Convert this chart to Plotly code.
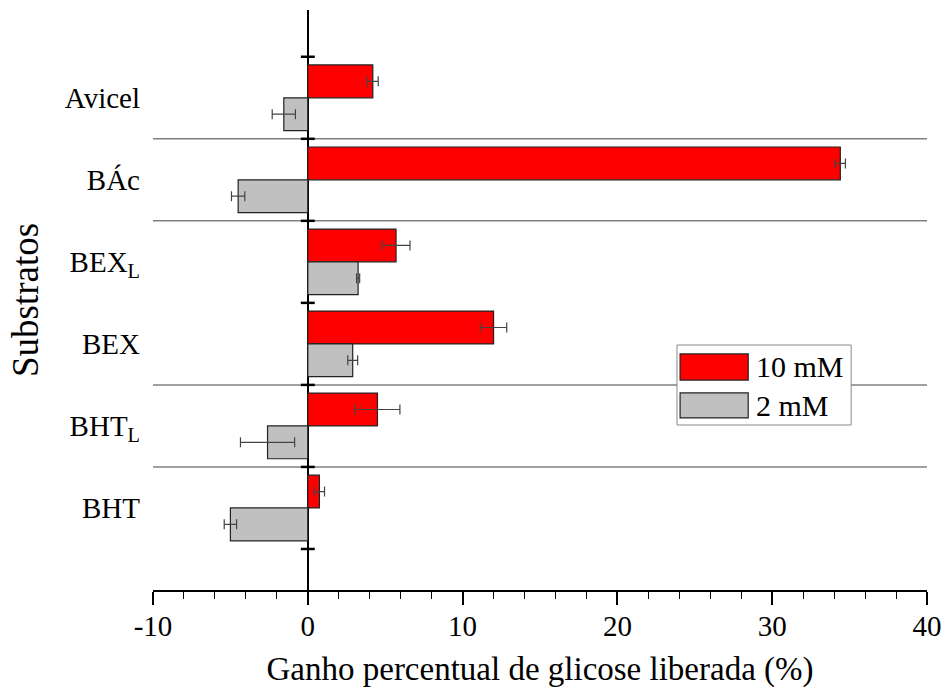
import plotly.graph_objects as go

categories = ["Avicel", "BÁc", "BEX<sub>L</sub>", "BEX", "BHT<sub>L</sub>", "BHT"]
val_10mM = [4.2, 34.4, 5.7, 12.0, 4.5, 0.75]
err_10mM = [0.35, 0.33, 0.9, 0.85, 1.45, 0.33]
val_2mM = [-1.55, -4.5, 3.25, 2.9, -2.6, -5.0]
err_2mM = [0.75, 0.43, 0.1, 0.32, 1.75, 0.4]
series_names = ["10 mM", "2 mM"]
x_ticks = [-10, 0, 10, 20, 30, 40]
x_ticklabels = ["-10", "0", "10", "20", "30", "40"]
separators = [0.5, 1.5, 3.5, 4.5]
tick_bounds = [-0.5, 0.5, 1.5, 2.5, 3.5, 4.5, 5.5]

FONT = "Liberation Serif"
RED = "#FF0000"
GRAY = "#C0C0C0"

fig = go.Figure()
fig.add_trace(go.Bar(
    y=categories, x=val_10mM, orientation="h", name=series_names[0],
    marker=dict(color=RED, line=dict(color="#222222", width=1.2)),
    error_x=dict(type="data", array=err_10mM, color="#444444", thickness=1.2, width=5),
    showlegend=False,
))
fig.add_trace(go.Bar(
    y=categories, x=val_2mM, orientation="h", name=series_names[1],
    marker=dict(color=GRAY, line=dict(color="#222222", width=1.2)),
    error_x=dict(type="data", array=err_2mM, color="#444444", thickness=1.2, width=5),
    showlegend=False,
))

shapes = []
for s in separators:
    shapes.append(dict(type="line", xref="paper", yref="y", x0=0, x1=1, y0=s, y1=s,
                       line=dict(color="#808080", width=1.5), layer="below"))
for t in tick_bounds:
    shapes.append(dict(type="line", xref="x", yref="y", x0=-0.45, x1=0.45, y0=t, y1=t,
                       line=dict(color="black", width=2.5)))

# manual legend
lx0, lx1, ly0, ly1 = 0.677, 0.902, 0.2845, 0.4224
shapes.append(dict(type="rect", xref="paper", yref="paper", x0=lx0, x1=lx1, y0=ly0, y1=ly1,
                   fillcolor="white", line=dict(color="#888888", width=1)))
sw = [(0.362, 0.407, RED), (0.2966, 0.3397, GRAY)]
annotations = []
for (y0, y1, c), name in zip(sw, series_names):
    shapes.append(dict(type="rect", xref="paper", yref="paper", x0=0.681, x1=0.769, y0=y0, y1=y1,
                       fillcolor=c, line=dict(color="#222222", width=1.2)))
    annotations.append(dict(xref="paper", yref="paper", x=0.777, y=(y0 + y1) / 2, text=name,
                            showarrow=False, xanchor="left", yanchor="middle",
                            font=dict(family=FONT, size=30, color="black")))

fig.update_layout(
    width=944, height=693,
    margin=dict(l=153, r=17, t=10, b=103),
    paper_bgcolor="white", plot_bgcolor="white",
    barmode="group", bargap=0.2, bargroupgap=0,
    font=dict(family=FONT, size=29, color="black"),
    shapes=shapes, annotations=annotations,
    xaxis=dict(
        range=[-10, 40], tickvals=x_ticks, ticktext=x_ticklabels, automargin=False,
        ticks="outside", ticklen=13, tickwidth=1.5, tickcolor="black", ticklabelstandoff=-4,
        minor=dict(dtick=2, ticks="outside", ticklen=7, tickwidth=1.2, tickcolor="black"),
        showline=True, linecolor="black", linewidth=1.5,
        showgrid=False, zeroline=True, zerolinecolor="black", zerolinewidth=2,
        tickfont=dict(family=FONT, size=29),
        title=dict(text="Ganho percentual de glicose liberada (%)", font=dict(family=FONT, size=33), standoff=16),
    ),
    yaxis=dict(
        type="category", categoryorder="array", categoryarray=categories, automargin=False,
        range=[6.0, -1.07], showline=False, showgrid=False, zeroline=False,
        ticks="", ticklabelstandoff=12,
        tickfont=dict(family=FONT, size=29),
        title=dict(text="Substratos", font=dict(family=FONT, size=37), standoff=14),
    ),
)

fig.write_html("out.html")
